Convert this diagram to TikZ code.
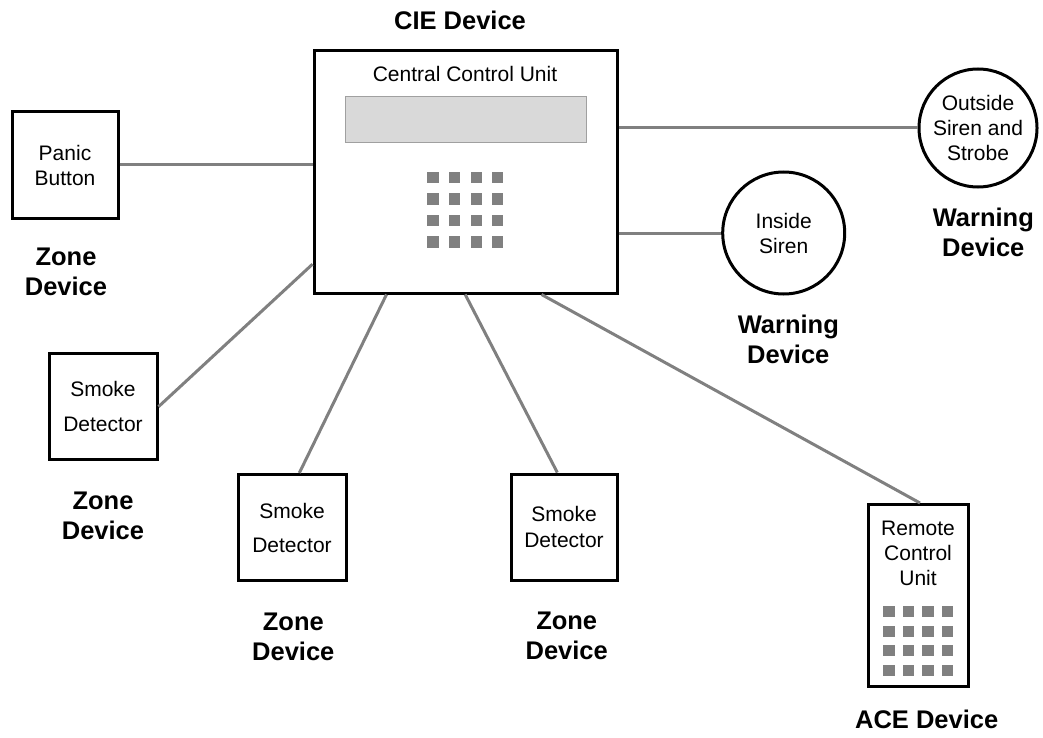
\documentclass[tikz,border=0pt]{standalone}
\usepackage{fontspec}
\setmainfont{Liberation Sans}
\usetikzlibrary{calc}
\definecolor{wirec}{HTML}{808080}
\definecolor{lcdc}{HTML}{D9D9D9}
\definecolor{lcdedge}{HTML}{A0A0A0}
\definecolor{keyc}{HTML}{808080}
\begin{document}
\begin{tikzpicture}[x=1pt,y=-1pt,
  devbox/.style={draw=black, line width=3pt, inner sep=0pt, align=center,
    font=\fontsize{21}{25}\selectfont},
  sirenc/.style={circle, draw=black, line width=3pt, inner sep=0pt, align=center,
    font=\fontsize{21}{25}\selectfont},
  wire/.style={draw=wirec, line width=3pt},
  lbl/.style={align=center, inner sep=0pt, font=\bfseries\fontsize{25.5}{30}\selectfont},
  plain/.style={align=center, inner sep=0pt, font=\fontsize{21}{25}\selectfont},
  keysq/.style={fill=keyc}]
\useasboundingbox (0,0) rectangle (1043,738);

% CIE unit
\node[devbox, minimum width=303, minimum height=242] (cie) at (465.5,172) {};
\node[lbl] (cietitle) at (460,20) {CIE Device};
\node[plain] (ccu) at (465,74) {Central Control Unit};
\node[draw=lcdedge, fill=lcdc, line width=1.5pt, minimum width=241, minimum height=45.6, inner sep=0pt] (lcd) at (466,119.5) {};
\foreach \i in {0,...,3}
  \foreach \j in {0,...,3}
    \fill[keysq] (427.3+21.6*\i,171.7+21.5*\j) rectangle ++(11.2,11.5);

% Panic button
\node[devbox, minimum width=106, minimum height=106] (panic) at (65,165) {Panic\\Button};
\node[lbl] (zone1) at (66,272) {Zone\\Device};

% Smoke detectors
\node[devbox, minimum width=108, minimum height=106, font=\fontsize{21}{35}\selectfont] (smoke1) at (103,406) {Smoke\\Detector};
\node[lbl] (zone2) at (103,515.8) {Zone\\Device};
\node[devbox, minimum width=108, minimum height=106, font=\fontsize{21}{34}\selectfont] (smoke2) at (292,527.5) {Smoke\\Detector};
\node[lbl] (zone3) at (293.3,637.2) {Zone\\Device};
\node[devbox, minimum width=106, minimum height=106, font=\fontsize{21}{26}\selectfont] (smoke3) at (564,527) {Smoke\\Detector};
\node[lbl] (zone4) at (566.7,636.2) {Zone\\Device};

% Sirens
\node[sirenc, minimum size=122] (inside) at (783.7,233) {Inside\\Siren};
\node[lbl] (warn1) at (788.3,339.2) {Warning\\Device};
\node[sirenc, minimum size=118] (outside) at (978,128) {Outside\\Siren and\\Strobe};
\node[lbl] (warn2) at (983.3,232.5) {Warning\\Device};

% Remote control unit
\node[devbox, minimum width=100, minimum height=182] (remote) at (918,595.5) {};
\node[plain] (remotetxt) at (918,553.3) {Remote\\Control\\Unit};
\foreach \i in {0,...,3}
  \foreach \j in {0,...,3}
    \fill[keysq] (883.3+19.4*\i,606+19.5*\j) rectangle ++(11.6,11.3);
\node[lbl] (ace) at (926.7,719) {ACE Device};

% Connectors
\draw[wire] (panic.east) -- (panic.east -| cie.west);
\draw[wire] (cie.east |- outside) -- (outside.west);
\draw[wire] (cie.east |- inside) -- (inside.west);
\draw[wire] ($(cie.south west)+(0,-30.3)$) -- ($(smoke1.east)+(0,0.7)$);
\draw[wire] ($(cie.south west)+(74,0)$) -- ($(smoke2.north)+(7.3,0)$);
\draw[wire] ($(cie.south west)+(152.7,0)$) -- ($(smoke3.north)+(-6.7,0)$);
\draw[wire] ($(cie.south west)+(229,0)$) -- ($(remote.north)+(2,0)$);
\end{tikzpicture}
\end{document}
